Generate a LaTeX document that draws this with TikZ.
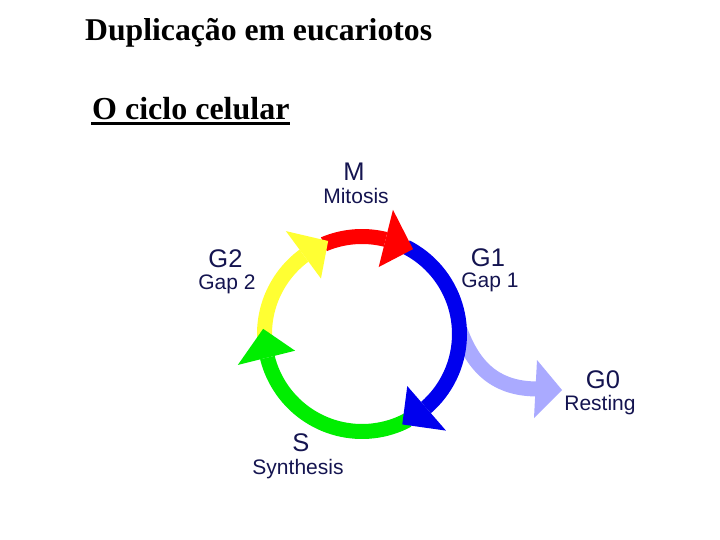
\documentclass[tikz,border=0pt]{standalone}
\usepackage{fontspec}
\newfontfamily\labfont{Liberation Sans}
\newfontfamily\titfont{Liberation Serif}
\usetikzlibrary{calc}
\definecolor{navy}{RGB}{20,20,80}
\definecolor{cred}{RGB}{255,0,0}
\definecolor{cyel}{RGB}{255,255,51}
\definecolor{cgrn}{RGB}{0,238,0}
\definecolor{cblu}{RGB}{0,0,238}
\definecolor{cgzero}{RGB}{170,170,255}
\newcommand\ringband[3]{\fill[#1] plot[domain=#2:#3,samples=40] (\x:105) -- plot[domain=#3:#2,samples=40] (\x:90) -- cycle;}
\newcommand\ringhead[3]{\fill[#1] (#2:128) -- (#3:99) -- (#2:69) -- cycle;}
\begin{document}
\begin{tikzpicture}[x=1pt,y=-1pt,
  big/.style={font=\labfont\fontsize{25.5}{25.5}\selectfont, text=navy, inner sep=0, anchor=base},
  small/.style={font=\labfont\fontsize{21}{21}\selectfont, text=navy, inner sep=0, anchor=base}]
\fill[white] (0,0) rectangle (720,540);
\useasboundingbox (0,0) rectangle (720,540);

\node[anchor=base west, inner sep=0, font=\titfont\bfseries\fontsize{31.7}{31.7}\selectfont] (title) at (85,40.5) {Duplicação em eucariotos};
\node[anchor=base west, inner sep=0, font=\titfont\bfseries\fontsize{32}{32}\selectfont] (sub) at (92,119.5) {O ciclo celular};
\fill ($(sub.base west)+(-1,2.8)$) rectangle ($(sub.base east)+(0,5.5)$);

% G0 exit arrow
\coordinate (g0s) at (460,330);
\coordinate (g0e) at (538,389);
\draw[cgzero, line width=15] (g0s) .. controls (476,374) and (502,389) .. (g0e);
\fill[cgzero] (537,360) -- (562,390) -- (534,418) -- cycle;

% cycle ring
\coordinate (c) at (362,334);
\begin{scope}[shift={(c)}, x=1pt, y=1pt]
  \ringband{cred}{113}{76}
  \ringband{cblu}{63}{-49}
  \ringband{cgrn}{-62}{-166}
  \ringband{cyel}{185}{126.5}
  \ringhead{cred}{76}{59}
  \ringhead{cblu}{-49}{-66}
  \ringhead{cgrn}{-166}{-183}
  \ringhead{cyel}{126.5}{110}
\end{scope}

\node[big] (M) at (354,181) {M};
\node[small] (Mit) at (356,203.5) {Mitosis};
\node[big] (G2) at (225.5,267.5) {G2};
\node[small] (Gap2) at (227,289) {Gap 2};
\node[big] (G1) at (488,266.5) {G1};
\node[small] (Gap1) at (490,287.5) {Gap 1};
\node[big] (S) at (301,451.5) {S};
\node[small] (Syn) at (298,474.5) {Synthesis};
\node[big] (G0) at (603,388.5) {G0};
\node[small] (Rest) at (600,410.5) {Resting};
\end{tikzpicture}
\end{document}
